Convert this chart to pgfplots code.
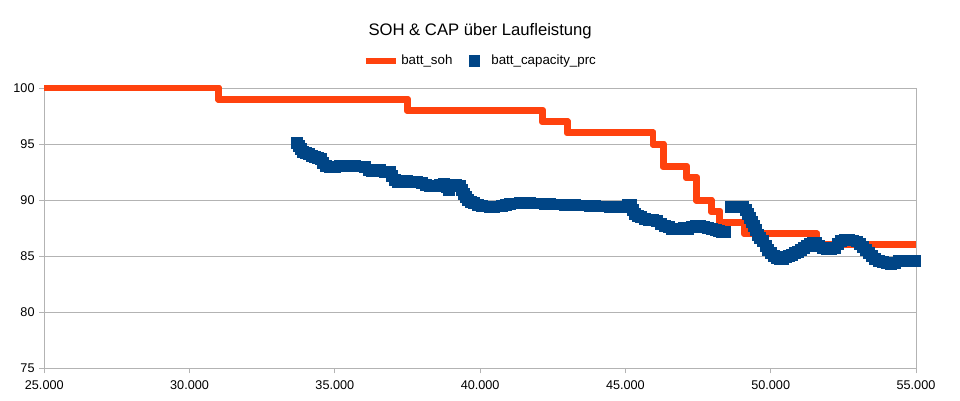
\documentclass[border=0pt]{standalone}
\usepackage{fontspec}
\setmainfont{Liberation Sans}
\usepackage{pgfplots}
\usepackage{pgfplotstable}
\pgfplotsset{compat=1.18}
\definecolor{sohorange}{HTML}{FF420E}
\definecolor{capblue}{HTML}{004586}
\definecolor{gridgray}{HTML}{B3B3B3}
\pgfplotsset{
  sohleg/.style={legend image code/.code={\draw[##1] (0pt,0pt) -- (22.5pt,0pt);}},
  capleg/.style={legend image code/.code={\path[draw=none, fill=none] (0pt,-0.5pt) rectangle (22.5pt,0.5pt);\draw[##1] plot coordinates {(11.25pt,0pt)};}},
}

\pgfplotstableread{
x y
25000 100
31000 100
31000 99
37500 99
37500 98
42150 98
42150 97
43000 97
43000 96
45950 96
45950 95
46300 95
46300 93
47100 93
47100 92
47450 92
47450 90
47950 90
47950 89
48250 89
48250 88
49100 88
49100 87
51580 87
51580 86
55000 86
}\sohtable

\pgfplotstableread{
x y
33695 95.09
33764 94.83
33833 94.56
33902 94.29
34005 94.20
34108 94.11
34212 93.93
34315 93.85
34418 93.76
34521 93.67
34590 93.31
34693 93.04
34831 92.95
35003 92.95
35175 93.04
35347 93.04
35519 93.04
35691 93.04
35863 93.00
36035 92.95
36173 92.69
36276 92.60
36414 92.60
36551 92.69
36723 92.51
36896 92.51
36964 92.15
37068 91.79
37171 91.61
37308 91.61
37480 91.70
37653 91.61
37825 91.61
37997 91.53
38134 91.35
38272 91.26
38444 91.26
38616 91.35
38754 91.44
38857 91.17
38926 90.90
39029 91.35
39167 91.35
39304 91.26
39373 90.90
39442 90.54
39511 90.28
39579 90.01
39683 89.83
39786 89.74
39924 89.56
40061 89.47
40199 89.43
40336 89.38
40474 89.38
40612 89.43
40749 89.47
40887 89.56
41025 89.65
41197 89.70
41369 89.74
41541 89.74
41713 89.74
41885 89.70
42057 89.70
42229 89.65
42401 89.65
42573 89.61
42745 89.61
42917 89.56
43089 89.56
43261 89.56
43433 89.52
43605 89.52
43778 89.47
43950 89.47
44122 89.43
44294 89.43
44466 89.38
44638 89.38
44810 89.38
44947 89.38
45085 89.56
45188 89.56
45257 89.12
45326 88.76
45429 88.58
45532 88.49
45670 88.31
45808 88.23
45945 88.23
46083 88.14
46221 87.87
46358 87.69
46496 87.60
46599 87.42
46737 87.42
46874 87.42
47012 87.51
47150 87.42
47287 87.60
47425 87.69
47563 87.69
47700 87.60
47838 87.51
47976 87.42
48113 87.33
48216 87.24
48320 87.15
48423 87.15
48629 89.38
48767 89.38
48905 89.38
49042 89.38
49145 89.12
49214 88.76
49283 88.40
49352 88.05
49421 87.69
49490 87.33
49558 86.89
49627 86.62
49730 86.35
49834 85.91
49902 85.55
50006 85.28
50109 85.01
50212 84.83
50315 84.75
50419 84.75
50522 84.92
50625 85.01
50728 85.10
50832 85.28
50935 85.37
51038 85.55
51141 85.73
51244 85.91
51348 86.08
51451 86.17
51554 86.17
51657 85.91
51795 85.73
51933 85.64
52070 85.64
52208 85.73
52311 86.08
52414 86.35
52552 86.44
52690 86.44
52827 86.40
52965 86.31
53068 86.08
53171 85.82
53275 85.55
53378 85.28
53481 85.01
53584 84.75
53722 84.57
53860 84.48
53997 84.39
54135 84.30
54273 84.39
54410 84.57
54548 84.57
54685 84.57
54823 84.57
54961 84.57
}\captable

\begin{document}
\begin{tikzpicture}
\useasboundingbox (-33.2pt,-24.5pt) rectangle (686.8pt,276.2pt);
\begin{axis}[
  scale only axis,
  width=653.8pt, height=210.2pt,
  xmin=25000, xmax=55000, ymin=75, ymax=100,
  xtick={25000,30000,35000,40000,45000,50000,55000},
  ytick={75,80,85,90,95,100},
  scaled x ticks=false,
  /pgf/number format/1000 sep={.},
  /pgf/number format/assume math mode=true,
  axis lines=left,
  axis line style={-, draw=gridgray, line width=0.75pt},
  tick align=outside,
  major tick length=3.75pt,
  tick style={draw=gridgray, line width=0.75pt},
  ymajorgrids,
  major grid style={draw=gridgray, line width=0.75pt},
  ticklabel style={font=\fontsize{9.5}{11}\selectfont, text=black},
  xticklabel style={yshift=-2pt},
  clip=false,
  title={SOH \& CAP über Laufleistung},
  title style={at={(0.5,1)}, anchor=base, yshift=33.5pt, font=\fontsize{12.5}{15}\selectfont},
  legend columns=2,
  legend style={draw=none, fill=none, at={(0.5,1)}, anchor=center, yshift=20.25pt,
    font=\fontsize{10}{12}\selectfont,
    nodes={inner sep=1.5pt},
    /tikz/every even column/.append style={column sep=3.75pt}},
]
\draw[gridgray, line width=0.75pt] (rel axis cs:1,0) -- (rel axis cs:1,1);
\addplot[sohorange, line width=5.2pt, line join=round, no marks, sohleg]
  table[x=x, y=y] {\sohtable};
\addlegendentry{batt\_soh}
\addplot[capblue, only marks, mark=square*, mark size=3.9pt,
  mark options={draw=capblue, fill=capblue, line width=0pt}, capleg]
  table[x=x, y=y] {\captable};
\addlegendentry{batt\_capacity\_prc}
\addplot[sohorange, line width=5.2pt, line join=round, no marks, forget plot]
  table[x=x, y=y] {\sohtable};
\end{axis}
\end{tikzpicture}
\end{document}
